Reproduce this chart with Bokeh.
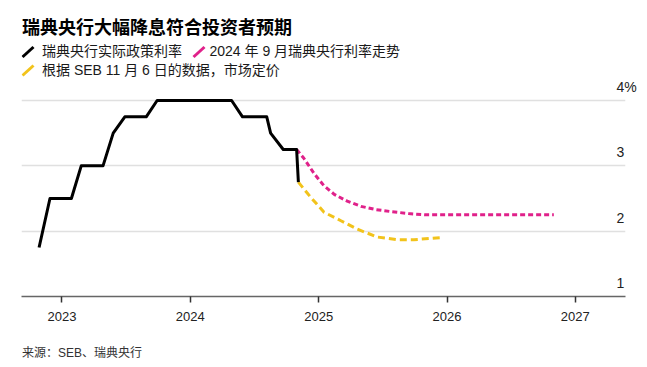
import pandas as pd
from bokeh.plotting import figure
from bokeh.layouts import column
from bokeh.models import (Label, Arrow, FixedTicker, DatetimeTickFormatter, Range1d,
                          LinearAxis)
from bokeh.embed import file_html
from bokeh.resources import INLINE

# ---- data ----
actual_dates = ["2022-10-28", "2022-11-28", "2023-01-28", "2023-02-25", "2023-04-28",
                "2023-05-27", "2023-06-29", "2023-08-29", "2023-09-29", "2024-04-28",
                "2024-05-29", "2024-08-06", "2024-08-17", "2024-09-22", "2024-10-30",
                "2024-11-04"]
actual_rate = [1.75, 2.5, 2.5, 3.0, 3.0, 3.5, 3.75, 3.75, 4.0, 4.0,
               3.75, 3.75, 3.5, 3.25, 3.25, 2.75]

sept_dates = ["2024-10-30", "2024-11-19", "2024-12-19", "2025-01-15", "2025-02-15",
              "2025-03-23", "2025-05-01", "2025-06-13", "2025-07-25", "2025-09-13",
              "2025-10-31", "2026-02-09", "2026-11-01"]
sept_rate = [3.25, 3.12, 2.88, 2.70, 2.56, 2.46, 2.38, 2.33, 2.30, 2.27, 2.25, 2.25, 2.25]

seb_dates = ["2024-11-04", "2024-12-09", "2025-01-16", "2025-03-05", "2025-04-21",
             "2025-06-17", "2025-08-13", "2025-09-29", "2025-12-14"]
seb_rate = [2.75, 2.52, 2.29, 2.16, 2.03, 1.91, 1.87, 1.87, 1.90]

tick_years = [2023, 2024, 2025, 2026, 2027]
y_ticks = [1, 2, 3, 4]
y_tick_labels = ["1", "2", "3", "4%"]

title_text = "瑞典央行大幅降息符合投资者预期"
legend_labels = ["瑞典央行实际政策利率", "2024 年 9 月瑞典央行利率走势",
                 "根据 SEB 11 月 6 日的数据，市场定价"]
source_text = "来源：SEB、瑞典央行"

# ---- styles ----
C_BLACK = "#000000"
C_PINK = "#e0218a"
C_YELLOW = "#f2c31b"
C_SERIES = [C_BLACK, C_PINK, C_YELLOW]
FONT = "'Liberation Sans', 'Noto Sans CJK SC'"
CJK = "'Noto Sans CJK SC'"
W = 647
H_MAIN, H_FOOT = 336, 31
FRAME_L, FRAME_R = 21, 625
FRAME_BOTTOM = 296                 # px from top of main figure

# ---- main chart ----
px_per_unit = 65.33
y_top = 1 + FRAME_BOTTOM / px_per_unit
x_start = pd.Timestamp("2022-09-08")
x_end = pd.Timestamp("2027-05-24")

p = figure(width=W, height=H_MAIN, x_axis_type="datetime",
           x_range=Range1d(x_start, x_end), y_range=Range1d(1, y_top),
           y_axis_location=None, toolbar_location=None, output_backend="svg",
           min_border_left=FRAME_L, min_border_right=W - FRAME_R, min_border_top=0,
           min_border_bottom=H_MAIN - FRAME_BOTTOM)
p.outline_line_color = None
p.xgrid.visible = False
p.ygrid.ticker = FixedTicker(ticks=y_ticks[1:])
p.ygrid.grid_line_color = "#e0e0e0"
p.ygrid.grid_line_width = 1.5

ax = p.xaxis[0]
ax.ticker = FixedTicker(ticks=[pd.Timestamp(f"{y}-01-01").value / 1e6 for y in tick_years])
ax.formatter = DatetimeTickFormatter(years="%Y", months="%Y", days="%Y", hours="%Y",
                                     minutes="%Y", seconds="%Y")
ax.axis_line_color = "#666666"
ax.axis_line_width = 1.5
ax.major_tick_line_color = "#333333"
ax.major_tick_line_width = 1.5
ax.major_tick_out = 6
ax.major_tick_in = 0
ax.minor_tick_line_color = None
ax.major_label_standoff = 9
ax.major_label_text_font = FONT
ax.major_label_text_font_size = "13px"
ax.major_label_text_color = "#222222"

# right-hand value labels, lifted above their gridlines
lift = 13.5 / px_per_unit
p.extra_y_ranges = {"lab": Range1d(1 - lift, y_top - lift)}
ra = LinearAxis(y_range_name="lab", ticker=FixedTicker(ticks=y_ticks),
                major_label_overrides={t: s for t, s in zip(y_ticks, y_tick_labels)})
ra.axis_line_color = None
ra.major_tick_line_color = None
ra.minor_tick_line_color = None
ra.major_tick_out = 0
ra.major_tick_in = 0
ra.major_label_standoff = -9
ra.major_label_text_font = FONT
ra.major_label_text_font_size = "14px"
ra.major_label_text_color = "#222222"
p.add_layout(ra, "right")

p.line(pd.to_datetime(sept_dates), sept_rate, line_color=C_PINK, line_width=3,
       line_dash="5 3")
p.line(pd.to_datetime(seb_dates), seb_rate, line_color=C_YELLOW, line_width=3,
       line_dash="7 4")
p.line(pd.to_datetime(actual_dates), actual_rate, line_color=C_BLACK, line_width=3,
       line_join="round")


# header (title + legend) in screen units: x from frame left, y up from frame bottom
def sx(page_x):
    return page_x - FRAME_L


def sy(page_y):
    return FRAME_BOTTOM - page_y


p.add_layout(Label(x=sx(21.5), y=sy(25), x_units="screen", y_units="screen",
                   text=title_text, text_align="left", text_baseline="middle",
                   text_font=CJK, text_font_style="bold", text_font_size="18px",
                   text_color="#000000"))
icon_x0 = [22, 193, 22]
icon_y0 = [56.5, 56.5, 75]
for ix, iy, col in zip(icon_x0, icon_y0, C_SERIES):
    p.add_layout(Arrow(x_start=sx(ix), y_start=sy(iy), x_end=sx(ix + 11),
                       y_end=sy(iy - 10), start_units="screen", end_units="screen",
                       end=None, line_color=col, line_width=3))
legend_x = [41.5, 209, 41.5]
legend_y = [50.5, 50.5, 69.5]
for lx, ly, txt in zip(legend_x, legend_y, legend_labels):
    p.add_layout(Label(x=sx(lx), y=sy(ly), x_units="screen", y_units="screen",
                       text=txt, text_align="left", text_baseline="middle",
                       text_font=FONT, text_font_size="14px", text_color="#1a1a1a"))

# ---- footer ----
foot = figure(width=W, height=H_FOOT, x_range=Range1d(FRAME_L, FRAME_R),
              y_range=Range1d(H_MAIN + H_FOOT, H_MAIN), toolbar_location=None,
              output_backend="svg", min_border_left=FRAME_L,
              min_border_right=W - FRAME_R, min_border_top=0, min_border_bottom=0,
              x_axis_location=None, y_axis_location=None)
foot.outline_line_color = None
foot.grid.visible = False
foot.add_layout(Label(x=21.5, y=352, text=source_text, text_align="left",
                      text_baseline="middle", text_font=FONT,
                      text_font_size="12px", text_color="#333333"))

layout = column(p, foot, spacing=0)
open("out.html", "w").write(file_html(layout, INLINE))
